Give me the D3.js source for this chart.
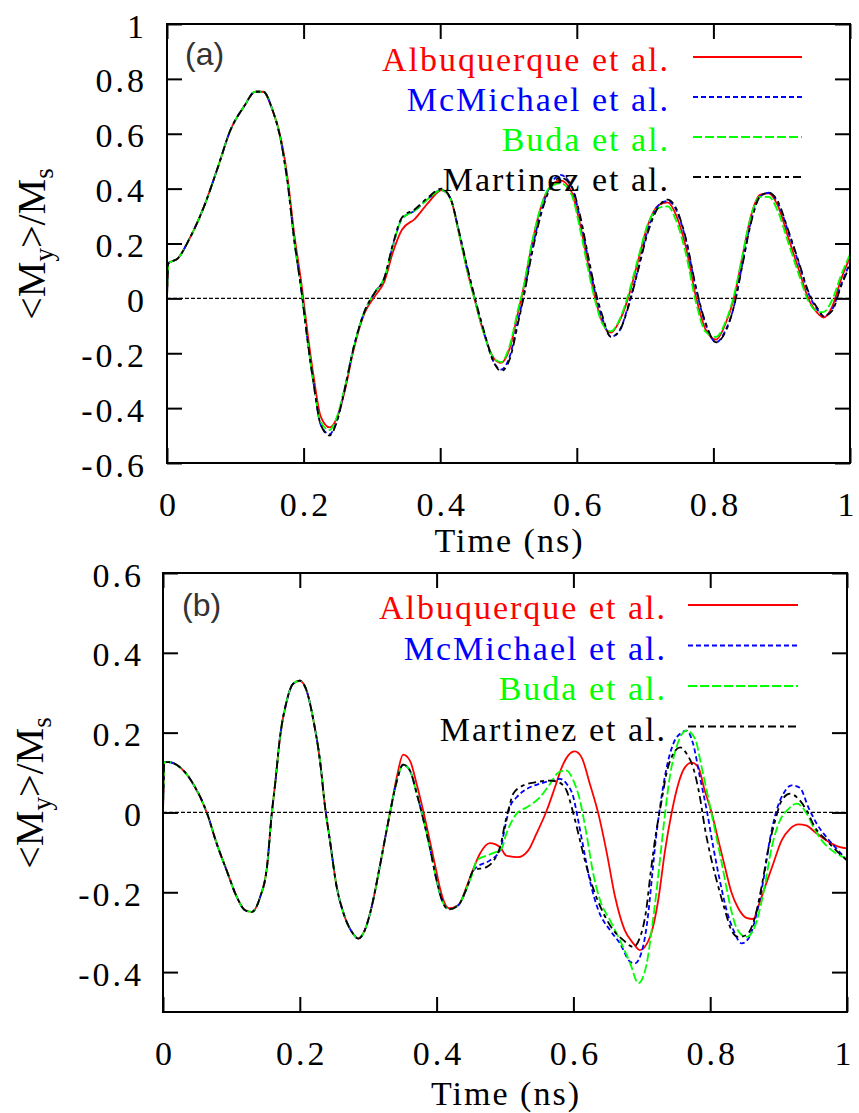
<!DOCTYPE html>
<html><head><meta charset="utf-8">
<script src="https://cdn.jsdelivr.net/npm/d3@7"></script>
<style>
body{margin:0;background:#fff} svg{display:block}
.serif{font-family:'Liberation Serif','DejaVu Serif','Times New Roman',Times,serif}
.sans{font-family:'Liberation Sans',Arial,Helvetica,sans-serif}
</style>
</head><body>
<svg id="chart" width="859" height="1113"></svg>
<script>
// ---------- data ----------
const seriesNames = ['Albuquerque et al.', 'McMichael et al.', 'Buda et al.', 'Martinez et al.'];
const xTicks = [0, 0.2, 0.4, 0.6, 0.8, 1];
const xTickLabels = ['0', '0.2', '0.4', '0.6', '0.8', '1'];
const yTicksA = [-0.6, -0.4, -0.2, 0, 0.2, 0.4, 0.6, 0.8, 1];
const yTickLabelsA = ['-0.6', '-0.4', '-0.2', '0', '0.2', '0.4', '0.6', '0.8', '1'];
const yTicksB = [-0.4, -0.2, 0, 0.2, 0.4, 0.6];
const yTickLabelsB = ['-0.4', '-0.2', '0', '0.2', '0.4', '0.6'];

// panel (a)
const timeA = [0,0.002,0.016,0.032,0.055,0.074,0.093,0.113,0.129,0.141,
0.154,0.167,0.177,0.186,0.197,0.206,0.215,0.225,0.238,0.248,
0.26,0.273,0.289,0.305,0.318,0.331,0.344,0.363,0.383,0.402,
0.415,0.428,0.44,0.45,0.463,0.479,0.489,0.502,0.514,0.521,
0.534,0.547,0.559,0.576,0.592,0.605,0.617,0.627,0.637,0.65,
0.662,0.675,0.688,0.704,0.72,0.733,0.746,0.759,0.775,0.788,
0.804,0.817,0.83,0.842,0.855,0.868,0.881,0.894,0.91,0.926,
0.939,0.955,0.961,0.974,0.987,1.0];
const aRed = [0,0.128,0.146,0.213,0.34,0.474,0.614,0.70,0.753,0.753,
0.69,0.58,0.43,0.24,0.05,-0.13,-0.29,-0.43,-0.47,-0.44,
-0.34,-0.19,-0.055,0.01,0.06,0.17,0.25,0.29,0.35,0.395,
0.364,0.231,0.097,0,-0.12,-0.22,-0.235,-0.18,-0.05,0.024,
0.194,0.328,0.40,0.43,0.39,0.267,0.12,0,-0.085,-0.125,
-0.085,0,0.12,0.267,0.34,0.35,0.30,0.194,0,-0.11,
-0.15,-0.097,0,0.146,0.30,0.377,0.383,0.34,0.219,0.097,
0,-0.06,-0.07,-0.03,0.07,0.15];
const aBlue = [0,0.128,0.146,0.213,0.34,0.474,0.614,0.70,0.753,0.753,
0.69,0.571,0.413,0.219,0.024,-0.158,-0.316,-0.46,-0.495,-0.45,
-0.33,-0.182,-0.049,0.024,0.073,0.194,0.29,0.32,0.365,0.395,
0.364,0.235,0.105,0.005,-0.115,-0.235,-0.26,-0.21,-0.08,-0.005,
0.17,0.31,0.40,0.45,0.41,0.29,0.14,0.02,-0.07,-0.14,
-0.12,-0.03,0.09,0.25,0.34,0.355,0.32,0.22,0.03,-0.09,
-0.16,-0.12,-0.03,0.12,0.28,0.37,0.385,0.35,0.24,0.12,
0.02,-0.05,-0.065,-0.04,0.05,0.13];
const aGreen = [0,0.128,0.146,0.213,0.34,0.474,0.614,0.70,0.753,0.753,
0.69,0.571,0.413,0.219,0.024,-0.158,-0.316,-0.45,-0.48,-0.437,
-0.328,-0.182,-0.049,0.024,0.073,0.194,0.29,0.32,0.364,0.395,
0.364,0.231,0.097,0,-0.12,-0.22,-0.232,-0.17,-0.04,0.03,
0.2,0.33,0.40,0.42,0.38,0.25,0.10,-0.01,-0.09,-0.12,
-0.08,0.01,0.13,0.27,0.33,0.335,0.28,0.17,-0.02,-0.12,
-0.14,-0.09,0.01,0.15,0.30,0.37,0.37,0.32,0.20,0.08,
-0.01,-0.05,-0.05,-0.005,0.085,0.16];
const aBlack = [0,0.128,0.146,0.213,0.34,0.474,0.614,0.70,0.753,0.753,
0.69,0.571,0.413,0.219,0.024,-0.158,-0.316,-0.46,-0.50,-0.455,
-0.335,-0.182,-0.049,0.024,0.073,0.20,0.295,0.325,0.37,0.40,
0.364,0.24,0.11,0.01,-0.11,-0.235,-0.265,-0.22,-0.09,-0.01,
0.16,0.30,0.39,0.44,0.41,0.30,0.15,0.03,-0.06,-0.14,
-0.12,-0.035,0.085,0.24,0.335,0.36,0.325,0.225,0.035,-0.085,
-0.16,-0.125,-0.03,0.115,0.275,0.37,0.385,0.355,0.245,0.125,
0.025,-0.045,-0.065,-0.045,0.045,0.12];

// panel (b): shared early part, then individual tails
const timeB0 = [0,0.002,0.0083,0.025,0.044,0.064,0.0785,0.093,0.108,0.12,
0.13,0.142,0.152,0.159,0.164,0.171,0.181,0.19,0.2,0.21,
0.22,0.2295,0.237,0.244,0.254,0.264,0.276,0.2856,0.295,0.305,
0.315,0.325,0.332,0.342,0.351,0.361,0.371,0.381,0.39,0.4,
0.405,0.418,0.432,0.444,0.454];
const bShared0 = [0,0.126,0.126,0.113,0.072,0,-0.078,-0.145,-0.212,-0.245,
-0.249,-0.212,-0.137,-0.003,0.072,0.188,0.28,0.322,0.33,0.305,
0.23,0.13,0.013,-0.07,-0.187,-0.253,-0.299,-0.316,-0.295,-0.237,
-0.153,-0.062,0,0.08,0.12,0.105,0.047,-0.02,-0.087,-0.17,
-0.205,-0.243,-0.232,-0.19,-0.145];
const bRed0 = [0,0.126,0.126,0.113,0.072,0,-0.078,-0.145,-0.212,-0.245,
-0.249,-0.212,-0.137,-0.003,0.072,0.188,0.28,0.322,0.33,0.305,
0.23,0.13,0.013,-0.07,-0.187,-0.253,-0.299,-0.316,-0.295,-0.237,
-0.153,-0.062,0,0.09,0.145,0.13,0.07,0,-0.07,-0.15,
-0.19,-0.24,-0.232,-0.185,-0.14];
const bRedT = [0.4635,0.478,0.4927,0.502,0.519,0.534,0.546,0.561,0.573,0.583,
0.5925,0.602,0.612,0.624,0.6365,0.649,0.661,0.675,0.6876,0.697,
0.712,0.724,0.734,0.7437,0.7534,0.763,0.773,0.7826,0.792,0.802,
0.812,0.8216,0.831,0.841,0.853,0.863,0.870,0.880,0.892,0.9045,
0.9167,0.929,0.941,0.953,0.97,0.99,1.0];
const bRedV = [-0.103,-0.077,-0.087,-0.108,-0.112,-0.095,-0.053,0.005,0.063,0.113,
0.143,0.153,0.138,0.072,-0.003,-0.103,-0.212,-0.295,-0.328,-0.345,
-0.312,-0.22,-0.095,0,0.072,0.113,0.125,0.113,0.055,0,
-0.07,-0.137,-0.2,-0.24,-0.264,-0.267,-0.237,-0.187,-0.129,-0.07,
-0.041,-0.03,-0.033,-0.049,-0.07,-0.087,-0.09];
const bBlueT = [0.4586,0.478,0.4927,0.5,0.507,0.517,0.532,0.551,0.568,0.5804,
0.590,0.600,0.607,0.6145,0.624,0.6365,0.6535,0.668,0.683,0.69,
0.702,0.709,0.715,0.721,0.7266,0.736,0.746,0.758,0.7656,0.775,
0.785,0.795,0.8045,0.814,0.824,0.834,0.846,0.856,0.8655,0.8777,
0.887,0.897,0.907,0.919,0.931,0.9435,0.956,0.970,0.987,1.0];
const bBlueV = [-0.137,-0.12,-0.095,-0.037,0.013,0.038,0.059,0.072,0.08,0.084,
0.072,0.038,-0.02,-0.087,-0.17,-0.245,-0.295,-0.328,-0.374,-0.378,
-0.335,-0.26,-0.16,-0.06,0.013,0.11,0.172,0.2,0.205,0.172,
0.088,0.005,-0.087,-0.17,-0.245,-0.295,-0.328,-0.316,-0.27,-0.17,
-0.07,0.005,0.047,0.068,0.062,0.013,-0.029,-0.062,-0.095,-0.12];
const bGreenT = [0.4586,0.478,0.495,0.502,0.517,0.532,0.551,0.566,0.578,0.590,
0.600,0.6096,0.619,0.629,0.639,0.6535,0.668,0.683,0.695,0.707,
0.714,0.722,0.7315,0.741,0.751,0.7656,0.778,0.7875,0.797,0.807,
0.817,0.8265,0.836,0.846,0.853,0.865,0.8777,0.89,0.902,0.914,
0.9265,0.9386,0.951,0.963,0.978,0.995,1.0];
const bGreenV = [-0.12,-0.105,-0.09,-0.053,-0.003,0.013,0.038,0.072,0.1,0.105,
0.08,0.03,-0.053,-0.153,-0.22,-0.27,-0.32,-0.378,-0.428,-0.38,
-0.30,-0.19,-0.04,0.09,0.165,0.205,0.184,0.113,0.038,-0.045,
-0.128,-0.212,-0.278,-0.307,-0.312,-0.287,-0.203,-0.087,-0.02,0.008,
0.022,0.004,-0.037,-0.07,-0.095,-0.112,-0.115];
const bBlackT = [0.473,0.4927,0.5,0.506,0.512,0.527,0.546,0.566,0.578,0.590,
0.5975,0.605,0.612,0.622,0.6316,0.644,0.6584,0.673,0.6876,0.698,
0.706,0.713,0.72,0.729,0.736,0.746,0.756,0.7656,0.775,0.785,
0.792,0.802,0.812,0.8216,0.831,0.841,0.853,0.8655,0.875,0.8855,
0.895,0.9045,0.9167,0.929,0.941,0.953,0.97,0.987,1.0];
const bBlackV = [-0.137,-0.087,-0.028,0.013,0.047,0.068,0.076,0.08,0.076,0.055,
0.013,-0.037,-0.087,-0.153,-0.203,-0.253,-0.295,-0.32,-0.337,-0.31,
-0.25,-0.15,-0.06,0.03,0.097,0.147,0.163,0.147,0.113,0.038,
-0.037,-0.12,-0.187,-0.245,-0.295,-0.312,-0.307,-0.262,-0.187,-0.087,
-0.02,0.03,0.047,0.034,0.005,-0.037,-0.07,-0.1,-0.12];

// ---------- styles ----------
const colors = ['#ff0000', '#0000ff', '#00ff00', '#000000'];
const dashes = [null, '5,3', '9,3', '8,4,4,4'];

const zip = (t, v) => t.map((d, i) => [d, v[i]]);

const panels = [
  {
    x0: 167, x1: 850, yTop: 24, yBot: 463, yDomain: [-0.6, 1],
    yTicks: yTicksA, yLabels: yTickLabelsA, label: '(a)', labelX: 185, labelY: 65,
    ytX: 45, ytY: 244, xtY: 552,
    legEnd: 668, legL0: 693, legL1: 802, legY0: 57, legDy: 40,
    ylabRight: 144,
    series: [zip(timeA, aRed), zip(timeA, aBlue), zip(timeA, aGreen), zip(timeA, aBlack)]
  },
  {
    x0: 163, x1: 847, yTop: 573, yBot: 1012, yDomain: [-0.5, 0.6],
    yTicks: yTicksB, yLabels: yTickLabelsB, label: '(b)', labelX: 182, labelY: 616,
    ytX: 43, ytY: 793, xtY: 1105,
    legEnd: 665, legL0: 688, legL1: 798, legY0: 605, legDy: 40.5,
    ylabRight: 141,
    series: [
      zip(timeB0.concat(bRedT), bRed0.concat(bRedV)),
      zip(timeB0.concat(bBlueT), bShared0.concat(bBlueV)),
      zip(timeB0.concat(bGreenT), bShared0.concat(bGreenV)),
      zip(timeB0.concat(bBlackT), bShared0.concat(bBlackV))
    ]
  }
];

const svg = d3.select('#chart');
svg.append('rect').attr('width', 859).attr('height', 1113).attr('fill', '#fff');

panels.forEach(p => {
  const x = d3.scaleLinear().domain([0, 1]).range([p.x0, p.x1]);
  const y = d3.scaleLinear().domain(p.yDomain).range([p.yBot, p.yTop]);
  const g = svg.append('g');

  // zero line
  g.append('line').attr('x1', x(0)).attr('x2', x(1)).attr('y1', y(0)).attr('y2', y(0))
    .attr('stroke', '#000').attr('stroke-width', 1.2).attr('stroke-dasharray', '4,2');

  // curves
  const line = d3.line().x(d => x(d[0])).y(d => y(d[1])).curve(d3.curveMonotoneX);
  p.series.forEach((s, i) => {
    g.append('path').datum(s).attr('d', line).attr('fill', 'none')
      .attr('stroke', colors[i]).attr('stroke-width', 1.8)
      .attr('stroke-dasharray', dashes[i]);
  });

  // axes (ticks inward)
  const bottom = g.append('g').attr('transform', `translate(0,${p.yBot})`)
    .call(d3.axisBottom(x).tickValues(xTicks).tickSize(-15).tickFormat((d, i) => xTickLabels[i]));
  const top = g.append('g').attr('transform', `translate(0,${p.yTop})`)
    .call(d3.axisTop(x).tickValues(xTicks).tickSize(-15).tickFormat(''));
  const left = g.append('g').attr('transform', `translate(${p.x0},0)`)
    .call(d3.axisLeft(y).tickValues(p.yTicks).tickSize(-15).tickFormat((d, i) => p.yLabels[i]));
  const right = g.append('g').attr('transform', `translate(${p.x1},0)`)
    .call(d3.axisRight(y).tickValues(p.yTicks).tickSize(-15).tickFormat(''));
  [bottom, top, left, right].forEach(a => {
    a.attr('font-family', null).attr('font-size', null);
    a.select('.domain').remove();
    a.selectAll('.tick line').attr('stroke', '#000').attr('stroke-width', 2);
  });
  bottom.selectAll('text').attr('dy', null).attr('y', 53).attr('class', 'serif')
    .attr('font-size', 34).attr('fill', '#000')
    .style('letter-spacing', '3px').attr('dx', 1.5);
  bottom.selectAll('.tick').filter((d, i) => i === xTicks.length - 1)
    .select('text').attr('dx', -3);
  left.selectAll('text').attr('dy', 13).attr('x', -(p.x0 - p.ylabRight) + 3).attr('class', 'serif')
    .attr('font-size', 34).attr('fill', '#000')
    .style('letter-spacing', '3px');

  // frame
  g.append('rect').attr('x', p.x0).attr('y', p.yTop)
    .attr('width', p.x1 - p.x0).attr('height', p.yBot - p.yTop)
    .attr('fill', 'none').attr('stroke', '#000').attr('stroke-width', 2);

  // panel label
  g.append('text').attr('x', p.labelX).attr('y', p.labelY).text(p.label).attr('class', 'sans')
    .attr('font-size', 32).attr('fill', '#333');

  // legend
  seriesNames.forEach((name, i) => {
    const ly = p.legY0 + i * p.legDy;
    g.append('text').attr('x', p.legEnd + 2).attr('y', ly + 14).text(name).attr('class', 'serif')
      .attr('text-anchor', 'end').attr('font-size', 34)
      .style('letter-spacing', '2px').attr('fill', colors[i]);
    g.append('line').attr('x1', p.legL0).attr('x2', p.legL1).attr('y1', ly).attr('y2', ly)
      .attr('stroke', colors[i]).attr('stroke-width', 2).attr('stroke-dasharray', dashes[i]);
  });

  // x title
  g.append('text').attr('x', (p.x0 + p.x1) / 2 + 1).attr('y', p.xtY).text('Time (ns)').attr('class', 'serif')
    .attr('text-anchor', 'middle').attr('font-size', 34)
    .style('letter-spacing', '2px').attr('fill', '#000');

  // y title
  const yt = g.append('text').attr('transform', `translate(${p.ytX},${p.ytY}) rotate(-90)`).attr('class', 'serif')
    .attr('text-anchor', 'middle').attr('font-size', 40).attr('fill', '#000');
  yt.append('tspan').text('<M');
  yt.append('tspan').text('y').attr('font-size', 27).attr('dy', 8);
  yt.append('tspan').text('>/M').attr('dy', -8);
  yt.append('tspan').text('s').attr('font-size', 27).attr('dy', 8);
});
</script>
</body></html>
